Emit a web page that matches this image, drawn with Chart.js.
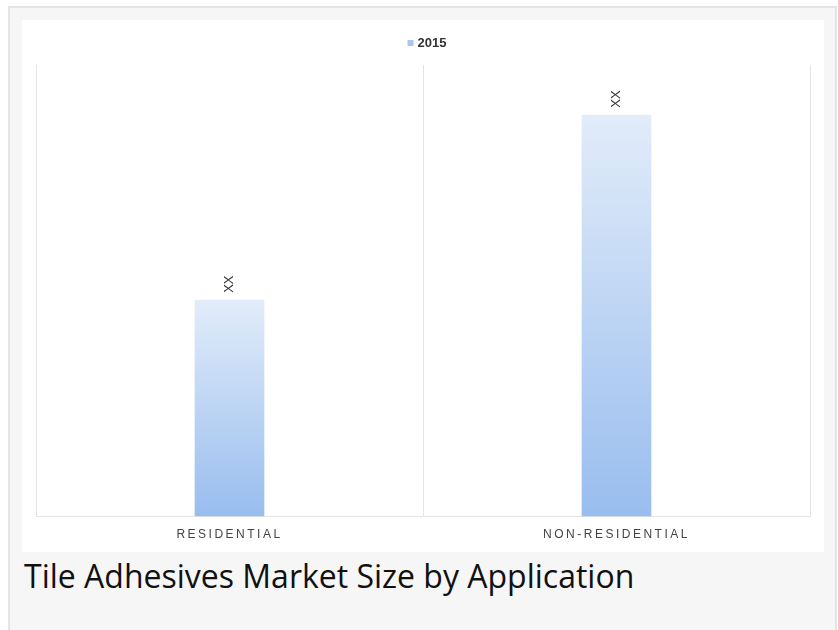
<!DOCTYPE html>
<html>
<head>
<meta charset="utf-8">
<script src="https://cdn.jsdelivr.net/npm/chart.js@4"></script>
<style>
  html, body { margin: 0; padding: 0; background: #ffffff; }
  .frame {
    position: absolute; left: 8px; top: 6px; width: 825px; height: 640px;
    border: 2px solid #e4e4e4; background: #f6f6f6;
  }
  .card {
    position: absolute; left: 12px; top: 12px; width: 802px; height: 532px;
    background: #ffffff;
  }
  .caption {
    position: absolute; left: 14px; top: 546px;
    font-family: "Open Sans", sans-serif; font-size: 32px; color: #111;
  }
</style>
</head>
<body>
<div class="frame">
  <div class="card"><canvas id="tileChart" width="802" height="532"></canvas></div>
  <div class="caption">Tile Adhesives Market Size by Application</div>
</div>
<script>
// 読み取った値 (相対値)
const categories = ['RESIDENTIAL', 'NON-RESIDENTIAL'];
const seriesName = '2015';
const values2015 = [48, 89];
const valueLabels = ['XX', 'XX'];

// 目盛りラベルだけ文字間隔をあける
const spacing = {
  id: 'spacing',
  beforeInit(chart) { chart.ctx.letterSpacing = '2.5px'; },
  beforeDraw(chart) { chart.ctx.letterSpacing = '2.5px'; },
  beforeDatasetsDraw(chart) { chart.ctx.letterSpacing = '0px'; },
};

// バーの上に縦書きのラベル + 凡例
const barLabels = {
  id: 'barLabels',
  afterDatasetsDraw(chart) {
    const ctx = chart.ctx;
    const meta = chart.getDatasetMeta(0);
    ctx.save();
    ctx.letterSpacing = '0px';
    ctx.fillStyle = '#333';
    ctx.font = '13px Arial';
    ctx.textAlign = 'left';
    ctx.textBaseline = 'middle';
    meta.data.forEach((bar, i) => {
      ctx.save();
      ctx.translate(bar.x, bar.y - 7);
      ctx.rotate(-Math.PI / 2);
      ctx.fillText(valueLabels[i], 0, 0);
      ctx.restore();
    });

    // 凡例 (上中央)
    const area = chart.chartArea;
    ctx.font = 'bold 13px Arial';
    const w = ctx.measureText(seriesName).width;
    const cx = (area.left + area.right) / 2 + 4;
    const y = 23;
    const x0 = cx - (w + 10) / 2;
    ctx.fillStyle = '#a9c7f0';
    ctx.fillRect(x0, y - 3, 6, 6);
    ctx.fillStyle = '#333';
    ctx.fillText(seriesName, x0 + 10, y);
    ctx.restore();
  }
};

const ctx = document.getElementById('tileChart').getContext('2d');
window.tileChart = new Chart(ctx, {
  type: 'bar',
  data: {
    labels: categories,
    datasets: [{
      label: seriesName,
      data: values2015,
      // バーごとにグラデーション (上が薄い)
      backgroundColor: (c) => {
        const area = c.chart.chartArea;
        if (!area || c.raw === undefined) return '#b8d0f2';
        const top = c.chart.scales.y.getPixelForValue(c.raw);
        const g = c.chart.ctx.createLinearGradient(0, top, 0, area.bottom);
        g.addColorStop(0, '#e2ecfa');
        g.addColorStop(1, '#98bdee');
        return g;
      },
      barPercentage: 0.36,
      categoryPercentage: 0.5,
    }],
  },
  options: {
    responsive: false,
    animation: false,
    layout: { padding: { left: 14, right: 14, top: 45, bottom: -1 } },
    plugins: {
      legend: { display: false },
      tooltip: { enabled: false },
    },
    scales: {
      x: {
        grid: { color: '#e4e4e4', offset: true, drawTicks: false },
        border: { color: '#e4e4e4' },
        ticks: {
          color: '#444', padding: 11,
          font: { family: 'Arial', size: 12 },
        },
      },
      y: {
        display: false,
        min: 0, max: 100,
      },
    },
  },
  plugins: [spacing, barLabels],
});
</script>
</body>
</html>
